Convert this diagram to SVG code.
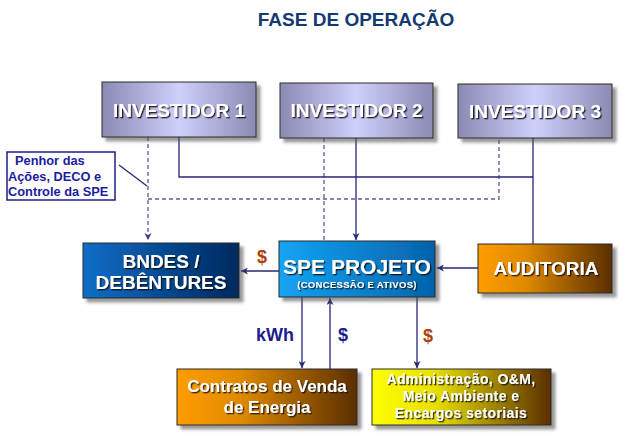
<svg xmlns="http://www.w3.org/2000/svg" width="640" height="438" viewBox="0 0 640 438">
<style>
.box{stroke:#2a2a2a;stroke-width:1}
.wt{fill:#ffffff;font-family:"Liberation Sans",Arial,sans-serif;font-weight:bold;text-anchor:middle}
.ln{fill:none;stroke:#26267a;stroke-width:1.3}
.dl{fill:none;stroke:#5a5a9e;stroke-width:1.3;stroke-dasharray:4,3}
.lbl{font-family:"Liberation Sans",Arial,sans-serif;font-weight:bold}
</style>
<defs>
<linearGradient id="gInv" x1="0" y1="0" x2="1" y2="0">
<stop offset="0" stop-color="#8a8ab2"/><stop offset="0.5" stop-color="#cfcffc"/><stop offset="1" stop-color="#8a8ab2"/>
</linearGradient>
<linearGradient id="gBn" x1="0" y1="0" x2="1" y2="0">
<stop offset="0" stop-color="#0a6ec8"/><stop offset="1" stop-color="#02285e"/>
</linearGradient>
<linearGradient id="gSpe" x1="0" y1="0" x2="1" y2="0">
<stop offset="0" stop-color="#14a4f4"/><stop offset="1" stop-color="#0462aa"/>
</linearGradient>
<linearGradient id="gOr" x1="0" y1="0" x2="1" y2="0">
<stop offset="0" stop-color="#ff9c00"/><stop offset="0.35" stop-color="#e08a04"/><stop offset="1" stop-color="#5a2e00"/>
</linearGradient>
<linearGradient id="gYe" x1="0" y1="0" x2="1" y2="0">
<stop offset="0" stop-color="#ffff00"/><stop offset="0.35" stop-color="#e8e000"/><stop offset="1" stop-color="#5a2e00"/>
</linearGradient>
<filter id="sh" x="-10%" y="-10%" width="130%" height="140%">
<feDropShadow dx="4" dy="4" stdDeviation="1.5" flood-color="#555555" flood-opacity="0.6"/>
</filter>
<filter id="ts" x="-10%" y="-20%" width="130%" height="150%">
<feDropShadow dx="1.3" dy="1.3" stdDeviation="0.6" flood-color="#111111" flood-opacity="0.85"/>
</filter>
<marker id="ar" viewBox="0 0 10 10" refX="10" refY="5" markerWidth="7" markerHeight="7" markerUnits="userSpaceOnUse" orient="auto">
<path d="M0,0 L10,5 L0,10 L3,5 z" fill="#26267a"/>
</marker>
<marker id="ard" viewBox="0 0 10 10" refX="10" refY="5" markerWidth="7" markerHeight="7" markerUnits="userSpaceOnUse" orient="auto">
<path d="M0,0 L10,5 L0,10 L3,5 z" fill="#3a3a8a"/>
</marker>
</defs>
<rect width="640" height="438" fill="#ffffff"/>
<text x="356" y="26" class="lbl" font-size="19" fill="#153a72" text-anchor="middle">FASE DE OPERAÇÃO</text>

<g id="connectors">
<path class="dl" d="M148,137 V240" marker-end="url(#ard)"/>
<path class="dl" d="M148,199 H499 V138"/>
<path class="dl" d="M324,138 V241"/>
<path class="ln" d="M179,137 V177 H533"/>
<path class="ln" d="M533,138 V244"/>
<path class="ln" d="M356,138 V240" marker-end="url(#ar)"/>
<path class="ln" d="M119,165 L147,186"/>
<path class="ln" d="M279,271 H241" marker-end="url(#ar)"/>
<path class="ln" d="M478,268 H437" marker-end="url(#ar)"/>
<path class="ln" d="M302,297 V368" marker-end="url(#ar)"/>
<path class="ln" d="M330,369 V298" marker-end="url(#ar)"/>
<path class="ln" d="M417,297 V368" marker-end="url(#ar)"/>
<text x="262" y="263" class="lbl" font-size="18" fill="#a8420e" text-anchor="middle">$</text>
<text x="275" y="341" class="lbl" font-size="18" fill="#1c1c8c" text-anchor="middle">kWh</text>
<text x="343" y="341" class="lbl" font-size="18" fill="#1c1c8c" text-anchor="middle">$</text>
<text x="428" y="342" class="lbl" font-size="18" fill="#a8420e" text-anchor="middle">$</text>
</g>

<g id="investidor1">
<rect x="102" y="82" width="154" height="55" fill="url(#gInv)" class="box" filter="url(#sh)"/>
<text x="179" y="117" class="wt" font-size="19" filter="url(#ts)">INVESTIDOR 1</text>
</g>
<g id="investidor2">
<rect x="280" y="83" width="153" height="55" fill="url(#gInv)" class="box" filter="url(#sh)"/>
<text x="356.5" y="117" class="wt" font-size="19" filter="url(#ts)">INVESTIDOR 2</text>
</g>
<g id="investidor3">
<rect x="458" y="84" width="154" height="54" fill="url(#gInv)" class="box" filter="url(#sh)"/>
<text x="535" y="118" class="wt" font-size="19" filter="url(#ts)">INVESTIDOR 3</text>
</g>

<g id="penhor">
<rect x="7" y="152" width="108" height="48" fill="#ffffff" stroke="#1c1c8c" stroke-width="1.5"/>
<text class="lbl" font-size="12.8" fill="#1c1ca0">
<tspan x="15" y="165">Penhor das</tspan>
<tspan x="8" y="180.5">Ações, DECO e</tspan>
<tspan x="8" y="196">Controle da SPE</tspan>
</text>
</g>

<g id="bndes">
<rect x="83" y="243" width="156" height="55" fill="url(#gBn)" class="box" filter="url(#sh)"/>
<text x="161" y="268" class="wt" font-size="19" filter="url(#ts)">BNDES /</text>
<text x="161" y="289" class="wt" font-size="19" filter="url(#ts)">DEBÊNTURES</text>
</g>

<g id="spe">
<rect x="279" y="241" width="156" height="56" fill="url(#gSpe)" class="box" filter="url(#sh)"/>
<text x="357" y="274" class="wt" font-size="21" filter="url(#ts)">SPE PROJETO</text>
<text x="357" y="288" class="wt" font-size="9.5" letter-spacing="0.3" filter="url(#ts)">(CONCESSÃO E ATIVOS)</text>
</g>

<g id="auditoria">
<rect x="478" y="244" width="134" height="49" fill="url(#gOr)" class="box" filter="url(#sh)"/>
<text x="546" y="275" class="wt" font-size="19" filter="url(#ts)">AUDITORIA</text>
</g>

<g id="contratos">
<rect x="177" y="369" width="180" height="56" fill="url(#gOr)" class="box" filter="url(#sh)"/>
<text x="267" y="392" class="wt" font-size="17" filter="url(#ts)">Contratos de Venda</text>
<text x="267" y="413" class="wt" font-size="17" filter="url(#ts)">de Energia</text>
</g>

<g id="administracao">
<rect x="372" y="369" width="179" height="56" fill="url(#gYe)" class="box" filter="url(#sh)"/>
<text x="461" y="384" class="wt" font-size="14" letter-spacing="0.4" filter="url(#ts)">Administração, O&amp;M,</text>
<text x="461" y="401" class="wt" font-size="14" letter-spacing="0.4" filter="url(#ts)">Meio Ambiente e</text>
<text x="461" y="418" class="wt" font-size="14" letter-spacing="0.4" filter="url(#ts)">Encargos setoriais</text>
</g>
</svg>
